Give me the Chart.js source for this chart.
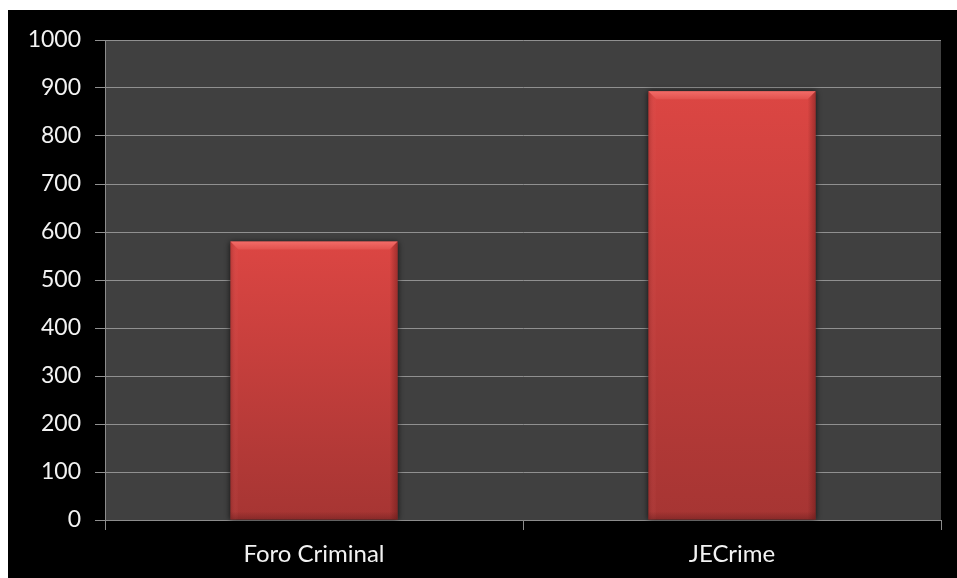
<!DOCTYPE html>
<html>
<head>
<meta charset="utf-8">
<script src="https://cdn.jsdelivr.net/npm/chart.js@4/dist/chart.umd.min.js"></script>
<style>
  html, body { margin: 0; padding: 0; background: #ffffff; }
  #frame { position: absolute; left: 8px; top: 10px; width: 949px; height: 568px; background: #000000; }
  canvas { display: block; }
</style>
</head>
<body>
<div id="frame"><canvas id="c" width="949" height="568"></canvas></div>
<script>
const categories = ["Foro Criminal", "JECrime"];
const values = [580, 893];
const yTicks = [0, 100, 200, 300, 400, 500, 600, 700, 800, 900, 1000];

const plotBg = {
  id: 'plotBg',
  beforeDraw(chart) {
    const { ctx, chartArea: a } = chart;
    ctx.save();
    ctx.fillStyle = '#404040';
    ctx.fillRect(a.left, a.top, a.right - a.left, a.bottom - a.top);
    ctx.restore();
  }
};

const bevelBars = {
  id: 'bevelBars',
  afterDatasetsDraw(chart) {
    const ctx = chart.ctx;
    const meta = chart.getDatasetMeta(0);
    meta.data.forEach(el => {
      const p = el.getProps(['x', 'y', 'base', 'width'], true);
      const x0 = p.x - p.width / 2, x1 = p.x + p.width / 2;
      const y0 = p.y, y1 = p.base;
      const b = 8;
      ctx.save();
      ctx.shadowColor = 'rgba(0,0,0,0.7)';
      ctx.shadowBlur = 6;
      const g = ctx.createLinearGradient(0, y0, 0, y1);
      g.addColorStop(0, '#dc4643');
      g.addColorStop(1, '#a63533');
      ctx.fillStyle = g;
      ctx.fillRect(x0, y0, x1 - x0, y1 - y0);
      ctx.shadowColor = 'transparent';
      ctx.shadowBlur = 0;
      const gt = ctx.createLinearGradient(0, y0, 0, y0 + b);
      gt.addColorStop(0, '#f26b67');
      gt.addColorStop(1, '#e2514d');
      ctx.fillStyle = gt;
      ctx.beginPath();
      ctx.moveTo(x0, y0); ctx.lineTo(x1, y0); ctx.lineTo(x1 - b, y0 + b); ctx.lineTo(x0 + b, y0 + b); ctx.closePath();
      ctx.fill();
      const gl = ctx.createLinearGradient(x0, 0, x0 + b, 0);
      gl.addColorStop(0, 'rgba(120,30,30,0.35)');
      gl.addColorStop(1, 'rgba(255,120,120,0.0)');
      ctx.fillStyle = gl;
      ctx.beginPath();
      ctx.moveTo(x0, y0); ctx.lineTo(x0 + b, y0 + b); ctx.lineTo(x0 + b, y1); ctx.lineTo(x0, y1); ctx.closePath();
      ctx.fill();
      const gr = ctx.createLinearGradient(x1 - b, 0, x1, 0);
      gr.addColorStop(0, 'rgba(90,20,20,0.0)');
      gr.addColorStop(1, 'rgba(90,20,20,0.45)');
      ctx.fillStyle = gr;
      ctx.beginPath();
      ctx.moveTo(x1, y0); ctx.lineTo(x1, y1); ctx.lineTo(x1 - b, y1); ctx.lineTo(x1 - b, y0 + b); ctx.closePath();
      ctx.fill();
      const gb = ctx.createLinearGradient(0, y1 - b, 0, y1);
      gb.addColorStop(0, 'rgba(80,20,20,0.0)');
      gb.addColorStop(1, 'rgba(80,20,20,0.35)');
      ctx.fillStyle = gb;
      ctx.fillRect(x0, y1 - b, x1 - x0, b);
      ctx.restore();
    });
  }
};

new Chart(document.getElementById('c'), {
  type: 'bar',
  data: {
    labels: categories,
    datasets: [{
      data: values,
      backgroundColor: 'rgba(0,0,0,0)',
      borderWidth: 0,
      categoryPercentage: 0.8,
      barPercentage: 0.5
    }]
  },
  options: {
    responsive: false,
    animation: false,
    events: [],
    layout: { padding: { top: 30, right: 16, left: 0, bottom: 0 } },
    plugins: { legend: { display: false }, tooltip: { enabled: false } },
    scales: {
      y: {
        min: 0, max: 1000,
        afterFit(s) { s.width = 97; },
        afterBuildTicks(s) { s.ticks = yTicks.map(v => ({ value: v })); },
        border: { display: true, color: '#8c8c8c', width: 1 },
        grid: { color: '#909090', lineWidth: 1, tickLength: 10, drawTicks: true },
        ticks: { color: '#f2f2f2', font: { family: 'Lato', size: 23 }, padding: 14, callback: v => String(v) }
      },
      x: {
        afterFit(s) { s.height = 58; },
        border: { display: true, color: '#8c8c8c', width: 1 },
        grid: { offset: true, drawOnChartArea: false, drawTicks: true, tickLength: 10, color: '#8c8c8c' },
        ticks: { color: '#f2f2f2', font: { family: 'Lato', size: 24 }, padding: 10 }
      }
    }
  },
  plugins: [plotBg, bevelBars]
});
</script>
</body>
</html>
